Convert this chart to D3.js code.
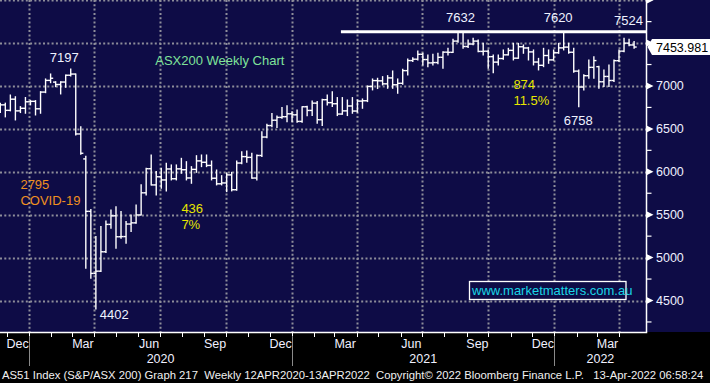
<!DOCTYPE html>
<html><head><meta charset="utf-8">
<script src="https://cdn.jsdelivr.net/npm/d3@7"></script>
<style>
html,body{margin:0;padding:0;background:#000;}
svg{display:block;font-family:"Liberation Sans",Arial,sans-serif;}
</style></head><body>
<svg id="c" width="710" height="383"></svg>
<script>
// ---- data (weekly OHLC, AS51 Index) ----
const firstWeek = new Date(2019, 10, 22);
const opens = [6720,6780,6716,6846,6710,6740,6816,6821,6734,6929,7065,7045,7017,7046,7125,7139,6441,6150,5539,4816,
4842,5068,5387,5487,5243,5245,5391,5405,5497,5755,6036,5847,5942,5905,6033,5919,6034,6024,5928,6028,
6127,6111,6074,5925,5860,5870,5964,5791,6102,6177,6168,5927,6190,6405,6539,6601,6634,6642,6676,6664,
6587,6758,6715,6800,6607,6840,6806,6793,6673,6710,6767,6708,6824,6828,6995,7063,7060,7025,7094,7014,
7031,7179,7296,7312,7369,7308,7269,7273,7334,7394,7392,7523,7628,7460,7489,7523,7403,7405,7342,7278,
7320,7363,7415,7324,7457,7443,7397,7279,7241,7355,7304,7387,7444,7453,7393,7173,6988,7120,7217,7225,
7049,7111,7064,7295,7406,7499,7478];
const highs = [6800,6800,6895,6875,6760,6866,6830,6830,6934,7082,7140,7050,7050,7128,7197,7140,6526,6180,5560,5245,
5361,5427,5555,5594,5536,5420,5497,5614,5850,6041,6196,6002,6040,6099,6080,6080,6157,6118,6060,6188,
6196,6196,6126,6021,5955,5983,5994,6126,6235,6243,6215,6196,6468,6553,6680,6650,6748,6771,6701,6720,
6759,6765,6826,6818,6845,6896,6934,6865,6865,6837,6865,6837,6849,7000,7082,7090,7109,7121,7175,7082,
7194,7315,7330,7408,7380,7361,7369,7381,7400,7439,7544,7632,7630,7536,7555,7536,7497,7420,7361,7361,
7420,7439,7497,7497,7478,7450,7420,7322,7439,7420,7420,7497,7620,7497,7439,7187,7130,7303,7342,7230,
7187,7245,7303,7420,7555,7544,7517];
const lows = [6690,6640,6710,6604,6690,6682,6780,6662,6682,6922,7038,6992,6907,6985,7117,6429,6205,4876,4760,4402,
4837,5060,5342,5109,5225,5167,5303,5400,5497,5730,5847,5730,5808,5777,5905,5905,5983,5905,5866,5994,
6060,6060,5905,5847,5847,5769,5777,5785,6095,6111,5924,5905,6177,6398,6526,6515,6623,6584,6584,6577,
6577,6654,6655,6565,6540,6779,6760,6655,6670,6655,6682,6694,6740,6818,6954,6970,7012,6973,6973,6915,
7020,7128,7284,7303,7245,7225,7245,7260,7206,7361,7390,7510,7440,7447,7480,7400,7361,7206,7155,7245,
7311,7361,7303,7322,7381,7303,7245,7187,7225,7264,7300,7381,7420,7381,7160,6758,6954,7090,7090,6973,
6993,6993,7051,7284,7400,7470,7439];
const closes = [6780,6716,6846,6710,6740,6816,6821,6734,6929,7065,7090,7017,7046,7125,7139,6441,6216,5539,4816,4842,
5068,5387,5487,5243,5245,5391,5405,5497,5755,6036,5847,5942,5905,6033,5919,6034,6024,5928,6028,6127,
6111,6074,5925,5860,5870,5964,5791,6102,6177,6168,5927,6190,6405,6539,6601,6634,6642,6676,6664,6587,
6758,6715,6800,6607,6840,6806,6793,6673,6710,6767,6708,6824,6828,6995,7063,7060,7025,7094,7014,7031,
7179,7296,7312,7369,7308,7269,7273,7334,7394,7392,7523,7628,7460,7489,7523,7403,7405,7342,7278,7320,
7363,7415,7324,7457,7443,7397,7279,7241,7355,7304,7387,7444,7453,7393,7173,6988,7120,7217,7296,7049,
7111,7064,7295,7406,7499,7478,7453.981];

const yMajor = [4500,5000,5500,6000,6500,7000,7500,8000];
const yMinor = [4250,4750,5250,5750,6250,6750,7250,7750];
const yLabels = ["4500","5000","5500","6000","6500","7000"];
const resistance = {level: 7632, from: new Date(2021, 2, 10)};
const annotations = [
  {text:"7197", week:14, value:7197, dx:-21, dy:-7, color:"#eef2ff"},
  {text:"7632", week:91, value:7632, dx:-12, dy:-10, color:"#eef2ff"},
  {text:"7620", week:112, value:7620, dx:-20, dy:-11, color:"#eef2ff"},
  {text:"7524", week:125, value:7524, dx:-15, dy:-16, color:"#eef2ff"},
  {text:"6758", week:115, value:6758, dx:-15, dy:18, color:"#eef2ff"},
  {text:"4402", week:19, value:4402, dx:4, dy:10, color:"#eef2ff"}
];
const notes = [
  {lines:["2795","COVID-19"], week:4, value:5805, color:"#f09020"},
  {lines:["436","7%"], week:36, value:5520, color:"#e6e600"},
  {lines:["874","11.5%"], week:102, value:6965, color:"#e6e600"}
];
const title = {text:"ASX200 Weekly Chart", week:31, value:7245};
const website = "www.marketmatters.com.au";
const footer = "AS51 Index (S&P/ASX 200) Graph 217  Weekly 12APR2020-13APR2022  Copyright\u00a9 2022 Bloomberg Finance L.P.   13-Apr-2022 06:58:24";

// ---- layout ----
const W = 710, H = 383, plotR = 646.5, plotB = 332;
const weeks = opens.map((_, i) => d3.timeDay.offset(firstWeek, 7 * i));
const bars = weeks.map((d, i) => ({date: d, o: opens[i], h: highs[i], l: lows[i], c: closes[i]}));

const x = d3.scaleTime().domain([weeks[0], weeks[weeks.length - 1]]).range([0.3, 634.1]);
const y = d3.scaleLinear().domain([4133, 8002]).range([plotB, 0]);

const svg = d3.select("#c");
svg.append("rect").attr("width", W).attr("height", H).attr("fill", "#000");
svg.append("rect").attr("width", 710).attr("height", plotB).attr("fill", "#0e0c46");

// grid
const grid = svg.append("g").attr("stroke", "#8e8e9a").attr("stroke-width", 2).attr("stroke-dasharray", "2,2.3");
grid.selectAll("line.h").data(yMajor).join("line")
  .attr("x1", 0).attr("x2", plotR).attr("y1", d => Math.round(y(d)) + 0.5).attr("y2", d => Math.round(y(d)) + 0.5);
const quarters = d3.timeMonth.every(3).range(new Date(2020,0,1), new Date(2022,4,1));
grid.selectAll("line.v").data(quarters).join("line")
  .attr("y1", 0).attr("y2", plotB).attr("x1", d => Math.round(x(d)) + 0.5).attr("x2", d => Math.round(x(d)) + 0.5);

// resistance line
svg.append("line").attr("x1", x(resistance.from)).attr("x2", plotR)
  .attr("y1", y(resistance.level)).attr("y2", y(resistance.level))
  .attr("stroke", "#fff").attr("stroke-width", 3);

// OHLC bars
const bg = svg.append("g").attr("stroke", "#fff").attr("stroke-width", 1.4).attr("fill", "none");
const tk = 2.6;
bars.forEach(b => {
  const cx = x(b.date);
  bg.append("line").attr("x1", cx).attr("x2", cx).attr("y1", y(b.h) - 0.5).attr("y2", y(b.l) + 0.5);
  bg.append("line").attr("x1", cx - tk).attr("x2", cx).attr("y1", y(b.o)).attr("y2", y(b.o));
  bg.append("line").attr("x1", cx).attr("x2", cx + tk).attr("y1", y(b.c)).attr("y2", y(b.c));
});

// right axis
const ax = svg.append("g");
ax.append("line").attr("x1", plotR).attr("x2", plotR).attr("y1", 0).attr("y2", plotB)
  .attr("stroke", "#fff").attr("stroke-width", 1.5);
ax.selectAll("path.tri").data(yMajor).join("path")
  .attr("d", d => { const yy = y(d); return `M${plotR},${yy-3.5}L${plotR+7},${yy}L${plotR},${yy+3.5}Z`; })
  .attr("fill", "#fff");
ax.selectAll("line.mn").data(yMinor).join("line")
  .attr("x1", plotR).attr("x2", plotR + 5).attr("y1", d => y(d)).attr("y2", d => y(d))
  .attr("stroke", "#fff").attr("stroke-width", 1.2);
ax.selectAll("text.yl").data(yLabels).join("text")
  .attr("x", 656).attr("y", d => y(+d) + 4.5).attr("fill", "#eef0ff")
  .attr("font-size", 12.5).text(d => d);

// last price box
const lastC = closes[closes.length - 1];
const py = y(lastC);
svg.append("path").attr("d", `M${plotR+1},${py}L${652},${py-8}L${710},${py-8}L${710},${py+8}L${652},${py+8}Z`)
  .attr("fill", "#fff");
svg.append("text").attr("x", 656).attr("y", py + 4.5).attr("fill", "#000").attr("font-size", 12.5)
  .text(lastC.toFixed(3));

// bottom axis
svg.append("line").attr("x1", 0).attr("x2", plotR + 0.75).attr("y1", plotB + 0.5).attr("y2", plotB + 0.5)
  .attr("stroke", "#fff").attr("stroke-width", 1.5);
const months = d3.timeMonth.range(new Date(2019,11,1), new Date(2022,4,1));
svg.selectAll("line.mt").data(months).join("line")
  .attr("x1", d => Math.round(x(d)) + 0.5).attr("x2", d => Math.round(x(d)) + 0.5)
  .attr("y1", plotB).attr("y2", plotB + 5).attr("stroke", "#fff").attr("stroke-width", 1);
const labelMonths = months.filter(d => [11, 2, 5, 8].includes(d.getMonth()));
svg.selectAll("text.ml").data(labelMonths).join("text")
  .attr("x", d => x(d3.timeDay.offset(d, 15))).attr("y", 348).attr("text-anchor", "middle")
  .attr("fill", "#f0f0ff").attr("font-size", 12.5).text(d => d3.timeFormat("%b")(d));
const yearStarts = [new Date(2020,0,1), new Date(2021,0,1), new Date(2022,0,1)];
svg.selectAll("line.ys").data(yearStarts).join("line")
  .attr("x1", d => Math.round(x(d)) + 0.5).attr("x2", d => Math.round(x(d)) + 0.5)
  .attr("y1", plotB + 4).attr("y2", 366).attr("stroke", "#8a8a8a").attr("stroke-width", 1);
svg.selectAll("text.yr").data(yearStarts).join("text")
  .attr("x", d => (x(d) + Math.min(plotR, x(d3.timeYear.offset(d, 1)))) / 2).attr("y", 363)
  .attr("text-anchor", "middle").attr("fill", "#f0f0ff").attr("font-size", 12.5)
  .text(d => d.getFullYear());

// footer
svg.append("text").attr("x", 2).attr("y", 379).attr("fill", "#f0f0f0").attr("font-size", 11.3)
  .style("white-space", "pre").attr("xml:space", "preserve").text(footer);

// annotations
svg.selectAll("text.an").data(annotations).join("text")
  .attr("x", d => x(weeks[d.week]) + d.dx).attr("y", d => y(d.value) + d.dy)
  .attr("fill", d => d.color).attr("font-size", 13).text(d => d.text);
notes.forEach(n => {
  const t = svg.append("text").attr("x", x(weeks[n.week])).attr("y", y(n.value))
    .attr("fill", n.color).attr("font-size", 13);
  n.lines.forEach((l, i) => t.append("tspan").attr("x", x(weeks[n.week])).attr("dy", i ? 16 : 0).text(l));
});
svg.append("text").attr("x", x(weeks[title.week]) - 1).attr("y", y(title.value)).attr("fill", "#7fe39a")
  .attr("font-size", 13).text(title.text);

// website box
const wb = svg.append("g");
wb.append("rect").attr("x", 469.5).attr("y", 281.5).attr("width", 156.5).attr("height", 18)
  .attr("fill", "#0e0c46").attr("stroke", "#fff").attr("stroke-width", 1.3);
wb.append("text").attr("x", 472).attr("y", 295).attr("fill", "#1ad6e6").attr("font-size", 13).text(website);
</script>
</body></html>
